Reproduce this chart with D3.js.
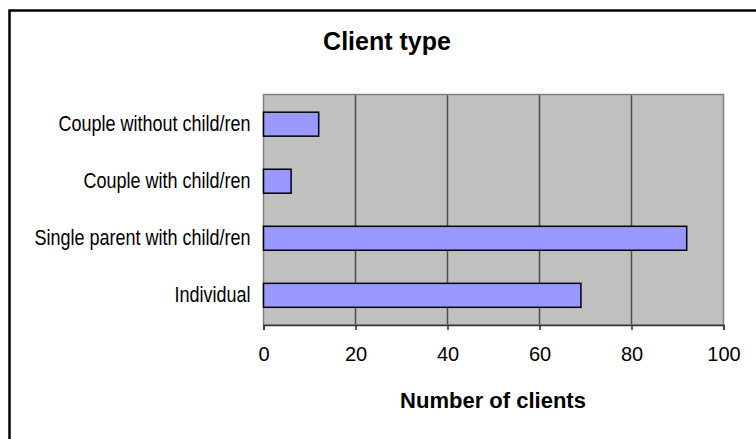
<!DOCTYPE html>
<html>
<head>
<meta charset="utf-8">
<script src="https://cdn.jsdelivr.net/npm/d3@7"></script>
<style>
  html, body { margin: 0; padding: 0; background: #fff; }
  svg { display: block; font-family: "Liberation Sans", Arial, sans-serif; }
</style>
</head>
<body>
<svg id="chart" width="756" height="439"></svg>
<script>
const chartTitle = "Client type";
const axisTitle = "Number of clients";
const categories = ["Couple without child/ren", "Couple with child/ren", "Single parent with child/ren", "Individual"];
const values = [12, 6, 92, 69];
const xTicks = [0, 20, 40, 60, 80, 100];

const svg = d3.select("#chart");
const W = 756, H = 439;

// outer chart border (extends past the window on right and bottom)
svg.append("rect")
  .attr("x", 9.5).attr("y", 10.5)
  .attr("width", W + 20).attr("height", H + 20)
  .attr("fill", "#fff").attr("stroke", "#000").attr("stroke-width", 2.5);

const plot = { left: 263.5, right: 723.5, top: 94.5, bottom: 325 };

const x = d3.scaleLinear().domain([0, 100]).range([plot.left, plot.right]);
const y = d3.scaleBand().domain(categories).range([plot.top, plot.bottom])
  .paddingInner(0.58).paddingOuter(0.31);

// plot area
svg.append("rect")
  .attr("x", plot.left).attr("y", plot.top)
  .attr("width", plot.right - plot.left).attr("height", plot.bottom - plot.top)
  .attr("fill", "#c0c0c0");

// gridlines
svg.append("g").selectAll("line").data(xTicks.filter(t => t > 0 && t < 100)).join("line")
  .attr("x1", d => x(d)).attr("x2", d => x(d))
  .attr("y1", plot.top).attr("y2", plot.bottom)
  .attr("stroke", "#4d4d4d").attr("stroke-width", 1.5);

// plot border
svg.append("rect")
  .attr("x", plot.left).attr("y", plot.top)
  .attr("width", plot.right - plot.left).attr("height", plot.bottom - plot.top)
  .attr("fill", "none").attr("stroke", "#808080").attr("stroke-width", 1.5);

// bars
svg.append("g").selectAll("rect").data(categories).join("rect")
  .attr("x", x(0))
  .attr("y", d => y(d))
  .attr("width", (d, i) => x(values[i]) - x(0))
  .attr("height", y.bandwidth())
  .attr("fill", "#9999ff")
  .attr("stroke", "#000").attr("stroke-width", 1.5);

// x axis
const xAxis = d3.axisBottom(x).tickValues(xTicks).tickSize(5).tickPadding(17).tickFormat(d3.format("d"));
const gx = svg.append("g").attr("transform", `translate(0,${plot.bottom})`).call(xAxis);
gx.select(".domain").attr("stroke", "#333").attr("stroke-width", 1.5);
gx.selectAll(".tick line").attr("stroke", "#333").attr("stroke-width", 1.5);
gx.selectAll(".tick text").attr("fill", "#000").style("font-size", "20px")
  .style("font-family", "'Liberation Sans', Arial, sans-serif");

// y axis labels
const yAxis = d3.axisLeft(y).tickSize(0).tickPadding(13);
const gy = svg.append("g").attr("transform", `translate(${plot.left},0)`).call(yAxis);
gy.select(".domain").remove();
gy.selectAll(".tick text").attr("fill", "#000").style("font-size", "18px")
  .style("font-family", "'Liberation Sans', Arial, sans-serif")
  .attr("transform", "scale(1,1.18)");

// titles
svg.append("text").attr("x", 387).attr("y", 50)
  .attr("text-anchor", "middle").style("font-size", "25px").style("font-weight", "bold")
  .text(chartTitle);
svg.append("text").attr("x", 493).attr("y", 408)
  .attr("text-anchor", "middle").style("font-size", "22px").style("font-weight", "bold")
  .text(axisTitle);
</script>
</body>
</html>
